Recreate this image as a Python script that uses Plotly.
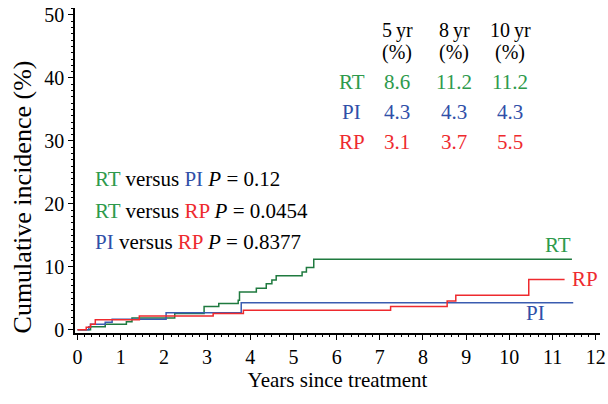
import plotly.graph_objects as go

# ---- data ----
rt_t = [0, 0.3, 0.64, 1.13, 1.26, 2.25, 2.93, 3.27, 3.72, 3.75, 4.14, 4.37, 4.5, 4.6, 5.2, 5.3, 5.47, 11.45]
rt_y = [0, 0.5, 0.9, 1.3, 1.9, 2.6, 3.7, 4.2, 4.7, 6.0, 6.6, 7.3, 7.9, 8.6, 9.2, 9.9, 11.2, 11.2]

pi_t = [0, 0.26, 0.3, 0.64, 0.8, 2.05, 3.79, 11.48]
pi_y = [0, 0.5, 0.9, 1.2, 1.7, 2.7, 4.3, 4.3]

rp_t = [0, 0.2, 0.3, 0.41, 1.43, 3.14, 3.84, 7.25, 8.56, 8.76, 10.45, 11.28]
rp_y = [0, 0.4, 0.9, 1.6, 2.2, 2.6, 3.1, 3.7, 4.6, 5.5, 8.0, 8.0]

groups = ["RT", "PI", "RP"]
table_headers = ["5\u2009yr", "8\u2009yr", "10\u2009yr"]
table_values = {
    "RT": ["8.6", "11.2", "11.2"],
    "PI": ["4.3", "4.3", "4.3"],
    "RP": ["3.1", "3.7", "5.5"],
}
pvalues = [("RT", "PI", "0.12"), ("RT", "RP", "0.0454"), ("PI", "RP", "0.8377")]

x_ticks = list(range(0, 13))
y_ticks = [0, 10, 20, 30, 40, 50]

# ---- styles ----
FONT = "Liberation Serif"
text_col = {"RT": "#2e9a4c", "PI": "#2f4fa8", "RP": "#ee2a2e"}
line_col = {"RT": "#1f7a3f", "PI": "#3a5cb0", "RP": "#ee2a2e"}

fig = go.Figure()
for name, t, y in [("RT", rt_t, rt_y), ("PI", pi_t, pi_y), ("RP", rp_t, rp_y)]:
    fig.add_trace(go.Scatter(x=t, y=y, mode="lines", line=dict(color=line_col[name], width=1.5, shape="hv"),
                             name=name, showlegend=False, hoverinfo="skip", cliponaxis=False))

ann = []
# line-end labels
for name, x, y in [("RT", 11.12, 13.5), ("RP", 11.75, 8.1), ("PI", 10.6, 2.6)]:
    ann.append(dict(x=x, y=y, text=name, showarrow=False, xanchor="center", yanchor="middle",
                    font=dict(family=FONT, size=21, color=text_col[name])))

# p-value lines
for i, (a, b, p) in enumerate(pvalues):
    txt = (f"<span style='color:{text_col[a]}'>{a}</span> versus "
           f"<span style='color:{text_col[b]}'>{b}</span> <i>P</i> = {p}")
    ann.append(dict(x=0.35, y=23.9 - i * 5.0, text=txt, showarrow=False, xanchor="left", yanchor="middle",
                    font=dict(family=FONT, size=21, color="black")))

# table
col_x = [7.4, 8.72, 10.02]
for cx, h in zip(col_x, table_headers):
    ann.append(dict(x=cx, y=47.6, text=h, showarrow=False, xanchor="center", yanchor="middle",
                    font=dict(family=FONT, size=20, color="black")))
    ann.append(dict(x=cx, y=44.1, text="(%)", showarrow=False, xanchor="center", yanchor="middle",
                    font=dict(family=FONT, size=20, color="black")))
row_y = [39.3, 34.6, 29.8]
for ry, g in zip(row_y, groups):
    ann.append(dict(x=6.35, y=ry, text=g, showarrow=False, xanchor="center", yanchor="middle",
                    font=dict(family=FONT, size=21, color=text_col[g])))
    for cx, v in zip(col_x, table_values[g]):
        ann.append(dict(x=cx, y=ry, text=v, showarrow=False, xanchor="center", yanchor="middle",
                        font=dict(family=FONT, size=21, color=text_col[g])))

# y-axis title as a rotated annotation (it sits a little below the axis centre)
ann.append(dict(xref="paper", yref="y", x=-0.1, y=21.1, text="Cumulative incidence (%)", textangle=-90,
                showarrow=False, xanchor="center", yanchor="middle",
                font=dict(family=FONT, size=26, color="black")))

fig.update_layout(
    width=608, height=404,
    margin=dict(l=75, r=8, t=8, b=71),
    paper_bgcolor="white", plot_bgcolor="white",
    font=dict(family=FONT, size=18, color="black"),
    annotations=ann,
    xaxis=dict(range=[-0.06, 12.1], tickvals=x_ticks, ticktext=[str(v) for v in x_ticks],
               automargin=False, ticklabeloverflow="allow",
               showgrid=False, zeroline=False, showline=True, linecolor="black", linewidth=1.5,
               ticks="outside", ticklen=5, tickwidth=1.2, tickcolor="black",
               minor=dict(dtick=1/6, tick0=0, ticks="outside", ticklen=2, tickcolor="black", tickwidth=1, showgrid=False),
               tickfont=dict(family=FONT, size=20),
               title=dict(text="Years since treatment", font=dict(family=FONT, size=21), standoff=6)),
    yaxis=dict(range=[-0.5, 51.1], tickvals=y_ticks, ticktext=[str(v) for v in y_ticks],
               automargin=False, ticklabeloverflow="allow",
               showgrid=False, zeroline=False, showline=True, linecolor="black", linewidth=1.5,
               ticks="outside", ticklen=5, tickwidth=1.2, tickcolor="black",
               minor=dict(dtick=1, tick0=0, ticks="outside", ticklen=2, tickcolor="black", tickwidth=1, showgrid=False),
               tickfont=dict(family=FONT, size=20)),
)

# remove the default 8 px page margin so the 608x404 figure fills the window
fig.write_html("out.html", post_script="document.body.style.margin='0';",
               config={"displayModeBar": False})
